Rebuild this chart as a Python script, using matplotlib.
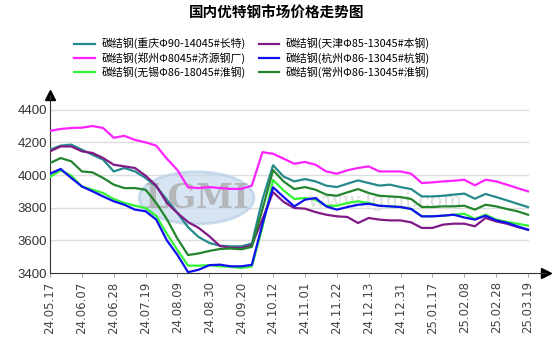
import numpy as np
import matplotlib
matplotlib.use("Agg")
import matplotlib.pyplot as plt
from matplotlib.patches import Ellipse

plt.rcParams['font.family'] = ['Noto Sans CJK SC', 'DejaVu Sans']

# ===============================
# dados (um ponto a cada 5 pregões)
# ===============================
idx = list(range(0, 226, 5))
tick_pos = list(range(0, 226, 15))
tick_labels = ["24.05.17", "24.06.07", "24.06.28", "24.07.19", "24.08.09", "24.08.30",
               "24.09.20", "24.10.12", "24.11.01", "24.11.22", "24.12.13", "24.12.31",
               "25.01.17", "25.02.08", "25.02.28", "25.03.19"]

chongqing = [4155, 4180, 4186, 4155, 4124, 4094, 4022, 4043, 4022, 3982, 3930, 3849,
             3767, 3680, 3620, 3584, 3567, 3563, 3563, 3580, 3850, 4060, 3990, 3961,
             3975, 3961, 3935, 3926, 3947, 3967, 3951, 3935, 3941, 3926, 3914, 3869,
             3869, 3873, 3880, 3886, 3855, 3884, 3865, 3845, 3824, 3804]
zhengzhou = [4270, 4282, 4288, 4290, 4300, 4288, 4228, 4240, 4215, 4200, 4180, 4100,
             4030, 3925, 3920, 3926, 3920, 3915, 3915, 3935, 4140, 4130, 4100, 4069,
             4080, 4063, 4022, 4008, 4029, 4043, 4053, 4022, 4022, 4022, 4008, 3951,
             3955, 3961, 3965, 3971, 3937, 3971, 3961, 3941, 3920, 3900]
wuxi = [3988, 4029, 3996, 3930, 3910, 3890, 3853, 3829, 3812, 3798, 3750, 3640,
        3540, 3445, 3445, 3448, 3441, 3438, 3431, 3440, 3680, 3970, 3905, 3853,
        3859, 3849, 3812, 3812, 3829, 3839, 3829, 3812, 3808, 3804, 3792, 3747,
        3747, 3751, 3757, 3763, 3731, 3757, 3727, 3714, 3702, 3690]
tianjin = [4145, 4175, 4175, 4145, 4135, 4104, 4063, 4053, 4043, 3996, 3935, 3829,
           3767, 3712, 3676, 3625, 3565, 3555, 3553, 3570, 3730, 3895, 3835, 3798,
           3794, 3773, 3757, 3747, 3743, 3706, 3737, 3727, 3722, 3722, 3710, 3676,
           3676, 3696, 3702, 3702, 3686, 3737, 3716, 3702, 3682, 3665]
hangzhou = [4008, 4037, 3982, 3930, 3900, 3869, 3839, 3818, 3788, 3778, 3727, 3600,
            3510, 3405, 3420, 3448, 3451, 3441, 3441, 3450, 3700, 3925, 3865, 3808,
            3849, 3859, 3808, 3788, 3804, 3818, 3824, 3812, 3808, 3804, 3792, 3747,
            3747, 3751, 3757, 3740, 3727, 3751, 3722, 3708, 3686, 3665]
changzhou = [4073, 4104, 4084, 4022, 4016, 3982, 3941, 3920, 3920, 3910, 3829, 3730,
             3610, 3510, 3520, 3535, 3547, 3550, 3545, 3560, 3790, 4030, 3960, 3914,
             3926, 3910, 3880, 3873, 3894, 3914, 3890, 3873, 3869, 3865, 3853, 3804,
             3804, 3808, 3808, 3812, 3788, 3818, 3808, 3792, 3778, 3757]

series = [
    ("碳结钢(重庆Φ90-14045#长特)", chongqing, "#268a8c"),
    ("碳结钢(郑州Φ8045#济源钢厂)", zhengzhou, "#ff22ff"),
    ("碳结钢(无锡Φ86-18045#淮钢)", wuxi, "#33f533"),
    ("碳结钢(天津Φ85-13045#本钢)", tianjin, "#7f1a86"),
    ("碳结钢(杭州Φ86-13045#杭钢)", hangzhou, "#1010f0"),
    ("碳结钢(常州Φ86-13045#淮钢)", changzhou, "#23852d"),
]

# ===============================
# figura
# ===============================
W, H = 554, 352
fig = plt.figure(figsize=(W / 100, H / 100), dpi=100)
x0, x1, ytop, ybot = 50, 546, 95, 273
ax = fig.add_axes([x0 / W, (H - ybot) / H, (x1 - x0) / W, (ybot - ytop) / H])

xmax = 225 * (x1 - x0) / (528 - x0)
ymax = 3400 + (ybot - ytop) / 163.3 * 1000
ax.set_xlim(0, xmax)
ax.set_ylim(3400, ymax)

# grade horizontal
for v in range(3600, 4401, 200):
    ax.plot([0, 225], [v, v], color="#dddddd", lw=1.0, zorder=1)

# marca d'água
ax.add_patch(Ellipse((69, 3860), 54, 320, facecolor="#c6daee", edgecolor="#b8cfe6",
                     lw=2, alpha=0.7, zorder=1.5))
ax.text(69, 3855, "LGMI", ha="center", va="center", fontsize=24, color="#a8a8a8",
        alpha=0.75, fontweight="bold", zorder=1.6, family="DejaVu Serif")
ax.text(158, 3835, "www.lgmi.com", ha="center", va="center", fontsize=15,
        color="#c8c8c8", alpha=0.6, zorder=1.6, family="DejaVu Serif")

for name, vals, col in series:
    ax.plot(idx, vals, color=col, lw=1.6, label=name, zorder=3)

ax.spines["top"].set_visible(False)
ax.spines["right"].set_visible(False)
ax.spines["left"].set_color("#333333")
ax.spines["bottom"].set_color("#333333")
ax.plot(1, 0, ">k", ms=7, transform=ax.transAxes, clip_on=False)
ax.plot(0, 1, "^k", ms=7, transform=ax.transAxes, clip_on=False)

ax.set_yticks(range(3400, 4401, 200))
ax.set_yticklabels([str(v) for v in range(3400, 4401, 200)], family="Liberation Sans")
ax.tick_params(axis="y", length=0, labelsize=9.5, colors="#333333", pad=2)
ax.set_xticks(tick_pos)
ax.set_xticklabels(tick_labels, rotation=90, fontsize=8.5, color="#444444",
                   family="DejaVu Sans")
ax.tick_params(axis="x", length=3, color="#aaaaaa", pad=3)

fig.text(0.5, 1 - 13 / H, "国内优特钢市场价格走势图", ha="center", va="center",
         fontsize=10.5, fontweight="bold")

fig.legend(loc="center", bbox_to_anchor=(252 / W, 1 - 58 / H), ncol=2, frameon=False,
           fontsize=7.8, handlelength=1.9, handletextpad=0.6, columnspacing=1.2,
           labelspacing=0.25)

fig.savefig("out.png", dpi=100)
